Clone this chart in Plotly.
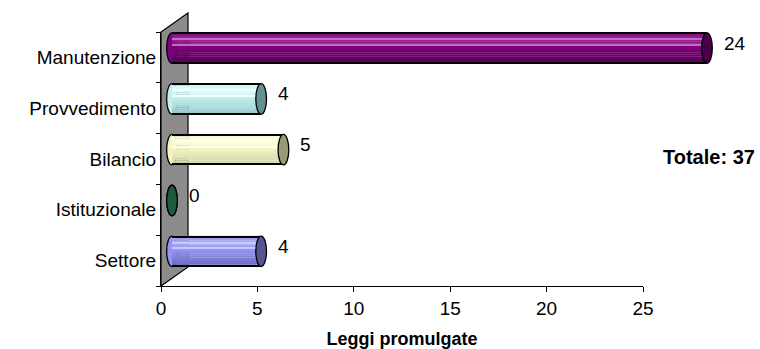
import plotly.graph_objects as go

# ---- data -------------------------------------------------------------
categories = ["Settore", "Istituzionale", "Bilancio", "Provvedimento", "Manutenzione"]
laws = [4, 0, 5, 4, 24]
x_ticks = [0, 5, 10, 15, 20, 25]
x_title = "Leggi promulgate"
total_text = "Totale"

# cylinder shading per category (bottom, middle, highlight, end face, stripe)
c_bottom = ["#6a6abc", "#1f6040", "#d2d2a0", "#96c6c6", "#580058"]
c_mid = ["#9494f2", "#2f8a5c", "#f4f4c6", "#c6f0f0", "#7e007e"]
c_light = ["#ababff", "#45a575", "#ffffe0", "#e0ffff", "#922c96"]
c_end = ["#55558f", "#1f5a3a", "#9a9a74", "#668f8f", "#4a0046"]
c_stripe = ["#c8c8ff", "#66bb88", "#ffffee", "#f2ffff", "#c46ac4"]

# ---- geometry (pixels of the 760x349 page) ----------------------------
W_PX, H_PX = 760, 349
PLOT_L, PLOT_R_AXIS, PLOT_T, PLOT_B = 161, 643, 32, 286
DEPTH_X, DEPTH_Y = 27, 19
FONT = "Liberation Sans, Arial, sans-serif"
FS = 19

BAR_OFF, BAR_W = -0.117, 0.6   # bar band inside each category slot
CAP = 0.24                     # half width of the elliptic ends (bar units)
BAR_RANGE = [-0.493, 26.38]    # scale of the cylinders on their own axis


def px(x):
    return x / W_PX


def py(y):
    return 1 - y / H_PX


def hex2rgb(h):
    h = h.lstrip("#")
    return tuple(int(h[i:i + 2], 16) for i in (0, 2, 4))


def mix(a, b, t):
    ra, rb = hex2rgb(a), hex2rgb(b)
    return "#%02x%02x%02x" % tuple(round(ra[i] + (rb[i] - ra[i]) * t) for i in range(3))


def shade(i, t):
    # t = 0 at the bottom of the cylinder, 1 at the top
    stops = [(0.0, c_bottom[i]), (0.55, c_mid[i]), (0.8, c_light[i]), (1.0, c_mid[i])]
    for (t0, a), (t1, b) in zip(stops[:-1], stops[1:]):
        if t <= t1:
            return mix(a, b, (t - t0) / (t1 - t0))
    return stops[-1][1]


fig = go.Figure()

# invisible points on the value axis (keeps the front axis and carries the hover)
fig.add_trace(go.Scatter(
    x=laws, y=categories, xaxis="x", yaxis="y", mode="markers",
    marker=dict(size=1, opacity=0), showlegend=False,
    hovertemplate="%{y}: %{x}<extra></extra>",
))

# gradient bands of the cylinder bodies
N = 14
for k in range(N):
    t0 = k / N
    tc = (k + 0.5) / N
    fig.add_trace(go.Bar(
        x=laws, y=categories, orientation="h", xaxis="x2", yaxis="y",
        offset=BAR_OFF + t0 * BAR_W, width=BAR_W / N + 0.004,
        marker=dict(color=[shade(i, tc) for i in range(len(categories))], line=dict(width=0)),
        hoverinfo="skip", showlegend=False,
    ))

# light stripes along the body
for ts in (0.58, 0.77):
    fig.add_trace(go.Bar(
        x=laws, y=categories, orientation="h", xaxis="x2", yaxis="y",
        offset=BAR_OFF + ts * BAR_W, width=0.022,
        marker=dict(color=c_stripe, line=dict(width=0)),
        hoverinfo="skip", showlegend=False,
    ))

# dark silhouette lines on top and bottom of each cylinder
for tb in (0.0, 1.0 - 0.035):
    fig.add_trace(go.Bar(
        x=laws, y=categories, orientation="h", xaxis="x2", yaxis="y",
        offset=BAR_OFF + tb * BAR_W, width=0.035 * BAR_W,
        marker=dict(color="#000000", line=dict(width=0)),
        hoverinfo="skip", showlegend=False,
    ))

shapes = []
# grey side wall
wall = (f"M {px(PLOT_L)},{py(PLOT_B)} L {px(PLOT_L)},{py(PLOT_T)} "
        f"L {px(PLOT_L + DEPTH_X)},{py(PLOT_T - DEPTH_Y)} "
        f"L {px(PLOT_L + DEPTH_X)},{py(PLOT_B - DEPTH_Y)} Z")
shapes.append(dict(type="path", path=wall, xref="paper", yref="paper",
                   fillcolor="#8c8c8c", line=dict(color="#000000", width=1.2), layer="below"))

for i, v in enumerate(laws):
    y0, y1 = i + BAR_OFF, i + BAR_OFF + BAR_W
    # rounded back end
    shapes.append(dict(type="circle", xref="x2", yref="y", x0=-CAP, x1=CAP, y0=y0, y1=y1,
                       fillcolor=c_mid[i], line=dict(color="#000000", width=1.3), layer="below"))
    # front end face
    shapes.append(dict(type="circle", xref="x2", yref="y", x0=v - CAP, x1=v + CAP, y0=y0, y1=y1,
                       fillcolor=c_end[i], line=dict(color="#000000", width=1.3), layer="above"))

annotations = []
for i, v in enumerate(laws):
    annotations.append(dict(x=v, y=i + 0.28, xref="x2", yref="y", text=str(v),
                            showarrow=False, xanchor="left", yanchor="middle", xshift=15,
                            font=dict(family=FONT, size=FS, color="#000000")))

annotations.append(dict(x=px(661), y=py(157), xref="paper", yref="paper",
                        text=f"<b>{total_text}: {sum(laws)}</b>", showarrow=False,
                        xanchor="left", yanchor="middle",
                        font=dict(family=FONT, size=FS + 1, color="#000000")))

fig.update_layout(
    template="none",
    width=W_PX, height=H_PX,
    margin=dict(l=0, r=0, t=0, b=0),
    paper_bgcolor="#ffffff", plot_bgcolor="rgba(0,0,0,0)",
    font=dict(family=FONT, size=FS, color="#000000"),
    barmode="overlay",
    showlegend=False,
    shapes=shapes,
    annotations=annotations,
    xaxis=dict(
        domain=[px(PLOT_L), px(PLOT_R_AXIS)], range=[0, 25], anchor="y",
        tickmode="array", tickvals=x_ticks, ticks="outside", ticklen=5,
        tickcolor="#000000", showline=True, linecolor="#000000", linewidth=1.2,
        showgrid=False, zeroline=False, automargin=False,
        tickfont=dict(family=FONT, size=FS, color="#000000"),
        title=dict(text=f"<b>{x_title}</b>", standoff=15,
                   font=dict(family=FONT, size=FS - 1, color="#000000")),
    ),
    xaxis2=dict(
        domain=[px(PLOT_L), 1.0], range=BAR_RANGE, anchor="y", visible=False,
    ),
    yaxis=dict(
        domain=[py(PLOT_B), py(PLOT_T)], anchor="x", type="category",
        categoryorder="array", categoryarray=categories, range=[-0.5, 4.5],
        tickson="boundaries", ticks="outside", ticklen=4, tickcolor="#000000",
        showline=True, linecolor="#000000", linewidth=1.2,
        showgrid=False, zeroline=False, automargin=False,
        tickfont=dict(family=FONT, size=FS, color="#000000"),
    ),
)

fig.write_html("out.html")
